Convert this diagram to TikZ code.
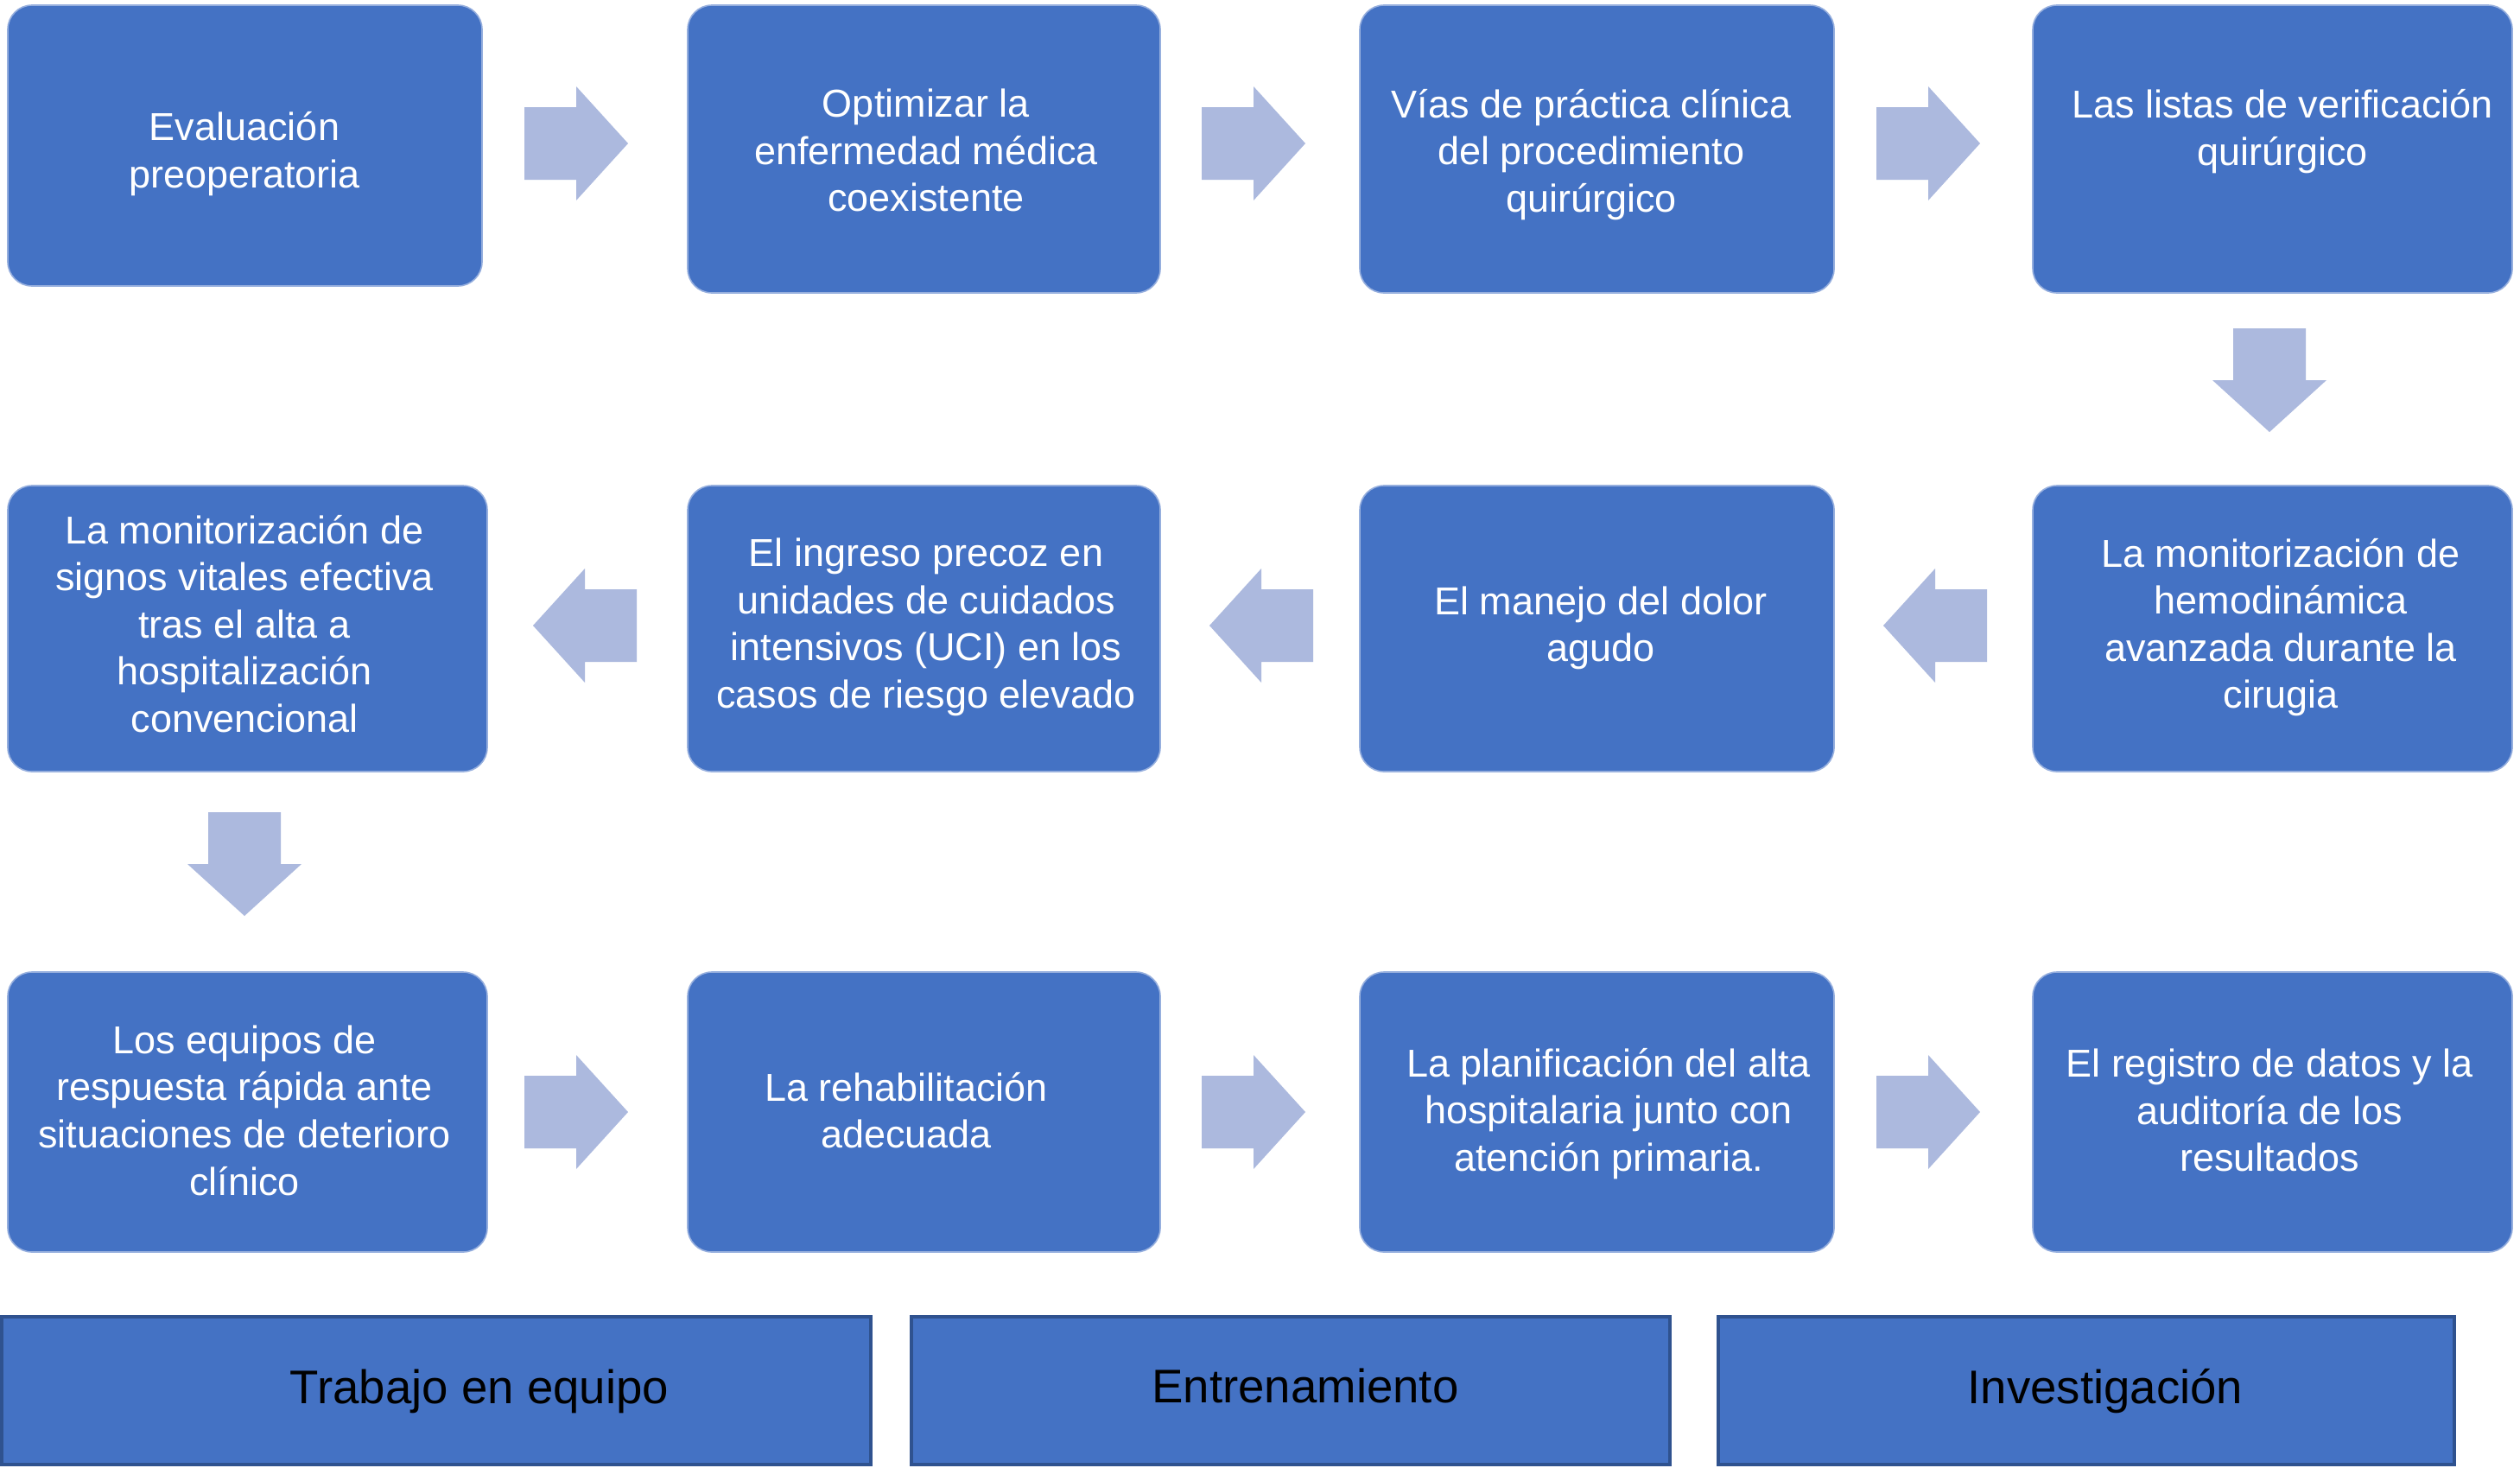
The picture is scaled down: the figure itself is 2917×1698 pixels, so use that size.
\documentclass[tikz,border=0pt]{standalone}
\usepackage{fontspec}
\setmainfont{Liberation Sans}
\definecolor{boxblue}{RGB}{68,114,196}
\definecolor{boxedge}{RGB}{150,175,222}
\definecolor{bardark}{RGB}{47,82,143}
\definecolor{arrowfill}{RGB}{172,185,222}
\tikzset{
  flowbox/.style={fill=boxblue, draw=boxedge, line width=0.8pt, rounded corners=14pt},
  bartbox/.style={fill=boxblue, draw=bardark, line width=2.2pt},
  boxtext/.style={text=white, align=center, inner sep=0pt, font=\fontsize{22.5pt}{27.3pt}\selectfont},
  bartext/.style={text=black, inner sep=0pt, font=\fontsize{27.3pt}{32pt}\selectfont},
  blockarrow/.pic={\fill[arrowfill] (-60,-42) -- (0,-42) -- (0,-66) -- (60,0) -- (0,66) -- (0,42) -- (-60,42) -- cycle;}
}
\begin{document}
\begin{tikzpicture}[x=0.5pt,y=-0.5pt]
\useasboundingbox (0,0) rectangle (2917,1698);
\fill[white] (0,0) rectangle (2917,1698);

% boxes
\draw[flowbox] (9,6) rectangle (558,331) node[pos=0.5,inner sep=0] (b1) {};
\draw[flowbox] (796,6) rectangle (1343,339) node[pos=0.5,inner sep=0] (b2) {};
\draw[flowbox] (1574,6) rectangle (2123,339) node[pos=0.5,inner sep=0] (b3) {};
\draw[flowbox] (2353,6) rectangle (2908,339) node[pos=0.5,inner sep=0] (b4) {};
\draw[flowbox] (2353,562) rectangle (2908,893) node[pos=0.5,inner sep=0] (b5) {};
\draw[flowbox] (1574,562) rectangle (2123,893) node[pos=0.5,inner sep=0] (b6) {};
\draw[flowbox] (796,562) rectangle (1343,893) node[pos=0.5,inner sep=0] (b7) {};
\draw[flowbox] (9,562) rectangle (564,893) node[pos=0.5,inner sep=0] (b8) {};
\draw[flowbox] (9,1125) rectangle (564,1449) node[pos=0.5,inner sep=0] (b9) {};
\draw[flowbox] (796,1125) rectangle (1343,1449) node[pos=0.5,inner sep=0] (b10) {};
\draw[flowbox] (1574,1125) rectangle (2123,1449) node[pos=0.5,inner sep=0] (b11) {};
\draw[flowbox] (2353,1125) rectangle (2908,1449) node[pos=0.5,inner sep=0] (b12) {};

% texts
\node[boxtext] (t1) at (283,178) {Evaluación\\preoperatoria};
\node[boxtext] (t2) at (1072,174) {Optimizar la\\enfermedad médica\\coexistente};
\node[boxtext] (t3) at (1842,179) {Vías de práctica clínica\\del procedimiento\\quirúrgico};
\node[boxtext] (t4) at (2642,152) {Las listas de verificación\\quirúrgico};
\node[boxtext] (t5) at (2640,726) {La monitorización de\\hemodinámica\\avanzada durante la\\cirugia};
\node[boxtext] (t6) at (1853,727) {El manejo del dolor\\agudo};
\node[boxtext] (t7) at (1072,726) {El ingreso precoz en\\unidades de cuidados\\intensivos (UCI) en los\\casos de riesgo elevado};
\node[boxtext] (t8) at (283,722) {La monitorización de\\signos vitales efectiva\\tras el alta a\\hospitalización\\convencional};
\node[boxtext] (t9) at (283,1285) {Los equipos de\\respuesta rápida ante\\situaciones de deterioro\\clínico};
\node[boxtext] (t10) at (1049,1285) {La rehabilitación\\adecuada};
\node[boxtext] (t11) at (1862,1289) {La planificación del alta\\hospitalaria junto con\\atención primaria.};
\node[boxtext] (t12) at (2627,1285) {El registro de datos y la\\auditoría de los\\resultados};

% block arrows
\pic at (667,166) {blockarrow};
\pic at (1451,166) {blockarrow};
\pic at (2232,166) {blockarrow};
\pic[rotate=-90] at (2627,440) {blockarrow};
\pic[rotate=180] at (2240,724) {blockarrow};
\pic[rotate=180] at (1460,724) {blockarrow};
\pic[rotate=180] at (677,724) {blockarrow};
\pic[rotate=-90] at (283,1000) {blockarrow};
\pic at (667,1287) {blockarrow};
\pic at (1451,1287) {blockarrow};
\pic at (2232,1287) {blockarrow};

% bottom bars
\draw[bartbox] (2,1524) rectangle (1008,1695) node[pos=0.5,inner sep=0] (p1) {};
\draw[bartbox] (1055,1524) rectangle (1933,1695) node[pos=0.5,inner sep=0] (p2) {};
\draw[bartbox] (1989,1524) rectangle (2841,1695) node[pos=0.5,inner sep=0] (p3) {};
\node[bartext] (q1) at (555,1610) {Trabajo en equipo};
\node[bartext] (q2) at (1511,1604) {Entrenamiento};
\node[bartext] (q3) at (2437,1610) {Investigación};
\end{tikzpicture}
\end{document}
